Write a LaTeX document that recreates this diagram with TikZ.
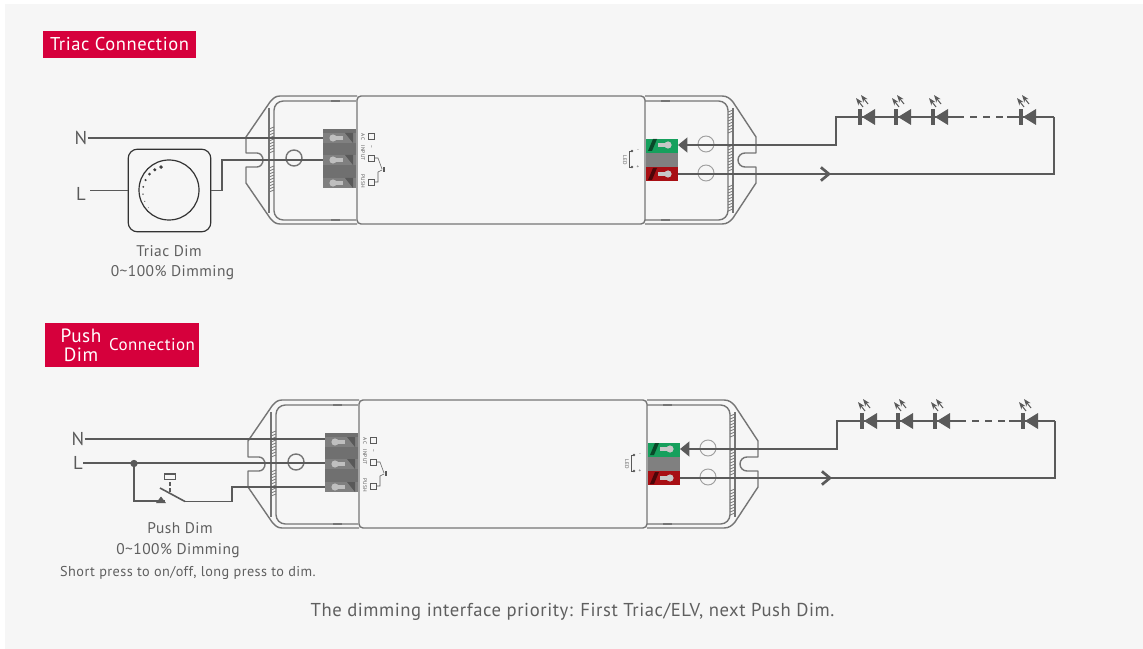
\documentclass[tikz,border=0pt]{standalone}
\usepackage{fontspec}
\setmainfont[LetterSpace=3]{PT Sans}
\usetikzlibrary{arrows.meta,positioning,calc}
\definecolor{panelgray}{HTML}{F6F6F6}
\definecolor{crimson}{HTML}{D6003C}
\definecolor{wiregray}{HTML}{5A5A5A}
\definecolor{linegray}{HTML}{757575}
\definecolor{txtgray}{HTML}{5F5F5F}
\definecolor{blockgray}{HTML}{707070}
\definecolor{termgreen}{HTML}{16A05D}
\definecolor{termred}{HTML}{A80F14}
\tikzset{
  outline/.style={draw=linegray,line width=1.05pt,line join=round},
  wire/.style={draw=wiregray,line width=1.45pt,line join=miter},
  title/.style={fill=crimson,text=white,inner sep=0pt,font=\fontsize{13.9}{15}\selectfont},
  caption/.style={text=txtgray,inner sep=0pt,font=\fontsize{11.6}{13}\selectfont},
  termlabel/.style={text=wiregray,inner sep=0pt,rotate=-90,font=\fontsize{4}{4}\selectfont},
  wirelabel/.style={text=wiregray,inner sep=0pt,font=\fontsize{14}{16}\selectfont},
  tinybox/.style={draw=wiregray,line width=.4pt},
  tinywire/.style={draw=wiregray,line width=.4pt},
  % one driver housing, numbers as in the upper drawing
  pics/driver/.style={code={
    \draw[outline] (357,96) -- (280,96) to[out=180,in=50] (270,102) -- (246,137) -- (246,153)
       -- (257,153) to[out=0,in=90] (263,160) to[out=-90,in=0] (257,167) -- (246,167)
       -- (246,183) -- (270,218) to[out=-50,in=180] (280,224) -- (357,224);
    \draw[outline] (645,96) -- (722,96) to[out=0,in=130] (733,102) -- (756,137) -- (756,153)
       -- (745,153) to[out=180,in=90] (738,160) to[out=-90,in=180] (745,167) -- (756,167)
       -- (756,183) -- (733,218) to[out=-130,in=0] (722,224) -- (645,224);
    \draw[outline,rounded corners=3pt] (357,96) rectangle (645,224);
    \draw[outline,rounded corners=7pt] (356,101) -- (274,101) -- (274,220) -- (356,220);
    \draw[outline,rounded corners=7pt] (645,101) -- (728,101) -- (728,220) -- (645,220);
    \draw[outline] (269,108) -- (269,213) (733,108) -- (733,213);
    \foreach \xa/\ya/\yb in {269/129/153,269/168/192,728/112/135,728/147/172,728/187/212}{
      \pgfmathsetmacro\yc{\ya+3}
      \foreach \yy in {\ya,\yc,...,\yb}
        \draw[linegray,line width=.6pt] (\xa,\yy) -- ++(5,-2);
    }
    \foreach \xa/\ya in {331/101,331/220,661/101,661/220}
      \draw[linegray,line width=1.4pt] (\xa,\ya) -- ++(9,0);
    \draw[outline] (294,158) circle (8) ;
    \fill[blockgray] (323,129) rectangle (356,188);
    \foreach \yy/\cc in {138/n,160/l,183/p}{
      \fill[gray] (323,\yy-5) rectangle (356,\yy+5);
      \fill[black!65] (345,\yy-5) -- (353,\yy-5) -- (353,\yy+5) -- cycle;
      \fill[black!25] (332,\yy-2) rectangle (343,\yy+2);
      \fill[black!25] (333,\yy) circle (3.6);
      \coordinate (-\cc) at (323,\yy);
    }
    \fill[termgreen] (646,139) rectangle (678,153);
    \fill[gray] (646,153) rectangle (678,167);
    \fill[termred] (646,167) rectangle (678,181);
    \foreach \yy/\cc in {145/g,174/r}{
      \fill[black,opacity=.55] (648,\yy+6) -- (652,\yy+6) -- (657,\yy-6) -- (653,\yy-6) -- cycle;
      \fill[black!22] (658,\yy-2) rectangle (668,\yy+2);
      \fill[black!22] (668,\yy) circle (3.6);
      \coordinate (-\cc) at (678,\yy);
    }
    \draw[linegray!70,line width=.7pt] (706,144) circle (8) (706,173) circle (8);
    \node[termlabel] (-ac) at (363,137) {AC};
    \node[termlabel] (-input) at (363,153) {INPUT};
    \node[termlabel] (-push) at (363,181) {PUSH};
    \node[termlabel] (-led) at (625,160) {LED};
    \foreach \yy in {136,158,182}
      \draw[tinybox] (368,\yy-3) rectangle (374,\yy+3);
    \node[inner sep=0pt,text=wiregray,font=\fontsize{4}{4}\selectfont,rotate=-90] (-tilde) at (371,147) {\textasciitilde};
    \draw[tinywire] (374,158) -- (378,158) -- (382,169) (374,182) -- (378,182) -- (378,172) -- (382,170);
    \fill[wiregray] (383,167) rectangle (385,172);
    \draw[tinywire] (632,151) -- (629,151) -- (629,167) -- (632,167);
    \fill[wiregray] (632,151) circle (1.3) (632,167) circle (1.3);
    \node[inner sep=0pt,text=wiregray,font=\fontsize{4}{4}\selectfont] (-minus) at (638,151) {-};
    \node[inner sep=0pt,text=wiregray,font=\fontsize{4}{4}\selectfont] (-plus) at (638,167) {+};
  }},
  pics/led/.style={code={
    \fill[wiregray] (-2,-8) rectangle (2,8);
    \fill[wiregray] (2,0) -- (15,-8) -- (15,8) -- cycle;
    \draw[wiregray,line width=.75pt,-{Stealth[length=5.5pt,width=4pt]}] (3,-10) -- (-4,-19);
    \draw[wiregray,line width=.75pt,-{Stealth[length=5.5pt,width=4pt]}] (8,-13) -- (1,-22);
  }},
  pics/ledstring/.style={code={
    \foreach \xx in {0,36,73,161}
      \pic at (\xx,0) {led};
  }},
  chev/.style={-{Straight Barb[length=6pt,width=10pt,line width=2pt]}}
}
\begin{document}
\begin{tikzpicture}[x=0.75pt,y=-0.75pt]
\useasboundingbox (0,0) rectangle (1143,649);
\fill[white] (0,0) rectangle (1143,649);
\fill[panelgray] (5,4) rectangle (1143,649);

% ---- Triac
\node[title,minimum width=114.75pt,minimum height=20.25pt] (ttlA) at (119.5,44.5) {Triac Connection};
\pic (drvA) at (0,0) {driver};
\node[wirelabel] (labN) at (81,138) {N};
\node[wirelabel] (labL) at (81,194) {L};
\coordinate (startL) at (90,190.5);
\node[draw=black!80,line width=.9pt,rounded corners=7pt,minimum size=62pt,inner sep=0pt] (dimbox) at (169.5,190.5) {};
\node[draw=black!80,line width=.9pt,circle,minimum size=45pt,inner sep=0pt] (dimknob) at (169,190) {};
\foreach \i in {0,...,7}
  \fill[black!75] ({169+(24.3+\i*.4)*cos(109+\i*16)},{190-(24.3+\i*.4)*sin(109+\i*16)}) circle ({1.9-\i*.22});
\draw[wire] (labN) -- (drvA-n);
\draw[wire] (startL) -- (dimbox);
\draw[wire] (dimbox) -- (222,190.5) |- (drvA-l);
\node[caption] (capA1) at (169,251) {Triac Dim};
\node[caption] (capA2) at (172.5,273) {0\textasciitilde100\% Dimming};
\coordinate (ledAa) at (860,117);
\coordinate (ledAb) at (1054,117);
\coordinate (chevA) at (831,174);
\draw[wire,-{Triangle[length=7pt,width=11pt]}] (ledAa) -- (836,117) |- (drvA-g);
\draw[wire] (ledAa) -- (964,117);
\draw[wire,dash pattern=on 5.25pt off 4.5pt] (970,117) -- (1003,117);
\draw[wire] (1007,117) -- (ledAb);
\draw[wire] (ledAb) |- (drvA-r);
\draw[wire,chev] (drvA-r) -- (chevA);
\pic at (860,117) {ledstring};

% ---- Push dim
\node[title,minimum width=115.5pt,minimum height=33pt] (ttlB) at (122,345) {};
\node[title,align=center,fill=none,font=\fontsize{14.4}{14.5}\selectfont] (ttlBa) at (81,345.5) {Push\\Dim};
\node[title,fill=none,font=\fontsize{12.7}{14}\selectfont] (ttlBb) at (152,345) {Connection};
\pic (drvB) at (2,304) {driver};
\node[wirelabel] (labNb) at (78,439) {N};
\node[wirelabel] (labLb) at (78,463) {L};
\node[fill=wiregray,circle,minimum size=5.5pt,inner sep=0pt] (jct) at (134,463.5) {};
\draw[wire] (labNb) -- (labNb -| drvB-n);
\draw[wire] (labLb) -- (labLb -| drvB-l);
\coordinate (swA) at (165,501);
\coordinate (swB) at (185,501.5);
\coordinate (swT) at (160,488);
\draw[wire,line width=1.2pt] (jct) |- (swA);
\draw[wire,line width=1.2pt] (swT) -- (swB);
\draw[wire,line width=1.2pt] (swB) -- (232,501.5) |- (drvB-p);
\fill[wiregray] (156,503) -- (161,496.5) -- (166,503) -- cycle;
\draw[wire,line width=1pt,dash pattern=on 3pt off 1.5pt] (170,492) -- (170,480);
\draw[wire,line width=1pt] (164.5,474) rectangle (175.5,479.5);
\node[caption] (capB1) at (180,528) {Push Dim};
\node[caption] (capB2) at (178,551) {0\textasciitilde100\% Dimming};
\node[caption,font=\fontsize{10.7}{11}\selectfont] (capB3) at (188,573) {Short press to on/off, long press to dim.};
\node[caption,font=\fontsize{14}{15}\selectfont] (capAll) at (572.5,612) {The dimming interface priority: First Triac/ELV, next Push Dim.};
\coordinate (ledBa) at (862,421);
\coordinate (ledBb) at (1055,421);
\coordinate (chevB) at (832,478);
\draw[wire,-{Triangle[length=7pt,width=11pt]}] (ledBa) -- (837,421) |- (drvB-g);
\draw[wire] (ledBa) -- (966,421);
\draw[wire,dash pattern=on 5.25pt off 4.5pt] (972,421) -- (1005,421);
\draw[wire] (1009,421) -- (ledBb);
\draw[wire] (ledBb) |- (drvB-r);
\draw[wire,chev] (drvB-r) -- (chevB);
\pic at (862,421) {ledstring};
\end{tikzpicture}
\end{document}
